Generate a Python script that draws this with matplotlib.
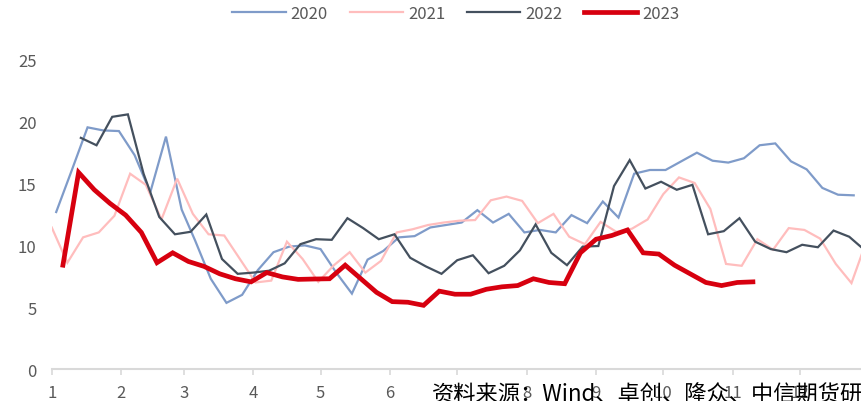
import pandas as pd
import matplotlib
matplotlib.use("Agg")
from matplotlib import pyplot as plt

plt.rcParams['font.family'] = ['Noto Sans CJK SC', 'DejaVu Sans']

# weekly series, each starting on its first Friday of data
v2020 = [12.7, 16.1, 19.55, 19.3, 19.25, 17.3, 14.3, 18.8, 12.9, 10.4,
         7.3, 5.35, 6.0, 8.0, 9.45, 9.9, 10.0, 9.7, 7.8, 6.1,
         8.85, 9.55, 10.65, 10.75, 11.45, 11.65, 11.85, 12.85, 11.85, 12.55,
         11.05, 11.25, 11.05, 12.45, 11.8, 13.55, 12.25, 15.8, 16.1, 16.1,
         16.8, 17.5, 16.85, 16.7, 17.05, 18.1, 18.25, 16.8, 16.15, 14.65,
         14.1, 14.05]
v2021 = [11.45, 8.6, 10.65, 11.05, 12.4, 15.8, 14.9, 12.1, 15.4, 12.55,
         10.9, 10.8, 8.9, 7.0, 7.15, 10.3, 8.9, 7.05, 8.4, 9.45,
         7.8, 8.75, 11.05, 11.3, 11.65, 11.85, 12.0, 12.05, 13.65, 13.95,
         13.6, 11.8, 12.55, 10.7, 10.1, 11.9, 11.1, 11.35, 12.1, 14.15,
         15.5, 15.05, 12.95, 8.5, 8.35, 10.5, 9.65, 11.4, 11.25, 10.55,
         8.5, 6.95, 10.5]
v2022 = [18.7, 18.1, 20.4, 20.6, 15.8, 12.3, 10.9, 11.1, 12.5, 8.9,
         7.7, 7.8, 7.95, 8.55, 10.1, 10.5, 10.45, 12.2, 11.4, 10.5,
         10.9, 9.0, 8.3, 7.7, 8.8, 9.2, 7.75, 8.35, 9.6, 11.7,
         9.4, 8.4, 9.9, 9.95, 14.8, 16.9, 14.6, 15.15, 14.5, 14.9,
         10.9, 11.15, 12.2, 10.3, 9.7, 9.45, 10.05, 9.85, 11.2, 10.7,
         9.6]
v2023 = [8.4, 15.9, 14.5, 13.4, 12.45, 11.05, 8.6, 9.4, 8.7, 8.3,
         7.7, 7.3, 7.05, 7.8, 7.45, 7.25, 7.28, 7.3, 8.4, 7.3,
         6.2, 5.45, 5.4, 5.15, 6.3, 6.05, 6.05, 6.45, 6.65, 6.75,
         7.3, 7.0, 6.9, 9.4, 10.5, 10.8, 11.25, 9.4, 9.3, 8.4,
         7.7, 7.0, 6.75, 7.0, 7.05]

starts = {"2020": "2020-01-03", "2021": "2021-01-01", "2022": "2022-01-14", "2023": "2023-01-06"}
series = {"2020": v2020, "2021": v2021, "2022": v2022, "2023": v2023}
colors = {"2020": "#7F9BC9", "2021": "#FFBDBD", "2022": "#44505E", "2023": "#D7000F"}
widths = {"2020": 1.6, "2021": 1.6, "2022": 1.6, "2023": 3.4}
months = list(range(1, 13))


def to_common_year(dates):
    # plot every year on the same month/day axis
    return [pd.Timestamp(2023, d.month, d.day) for d in dates]


fig = plt.figure(figsize=(8.62, 4.02), dpi=100)
ax = fig.add_axes([0.060, 0.0796, 0.940, 0.7687])

for name, vals in series.items():
    dates = pd.date_range(starts[name], periods=len(vals), freq="7D")
    ax.plot(to_common_year(dates), vals, color=colors[name], lw=widths[name],
            label=name, solid_joinstyle="miter")

ax.set_ylim(0, 25)
ax.set_yticks(range(0, 26, 5))
x0 = pd.Timestamp("2023-01-01")
ax.set_xlim(x0, x0 + pd.Timedelta(days=361.7))
ax.set_xticks([pd.Timestamp(2023, m, 1) for m in months])
ax.set_xticklabels([str(m) for m in months])

for s in ["top", "right", "left"]:
    ax.spines[s].set_visible(False)
ax.spines["bottom"].set_color("#D9D9D9")
ax.spines["bottom"].set_linewidth(1.5)
ax.tick_params(axis="x", length=4, width=1.2, color="#D9D9D9", pad=7,
               labelsize=12, labelcolor="#595959")
ax.tick_params(axis="y", length=0, pad=11, labelsize=12, labelcolor="#595959")

fig.legend(loc="center", bbox_to_anchor=(0.529, 0.965), ncol=4, frameon=False,
           fontsize=12, labelcolor="#595959", handlelength=3.2,
           handletextpad=0.3, columnspacing=1.3)

fig.text(432 / 862, 0.045, "资料来源：Wind、卓创、隆众、中信期货研究所",
         fontsize=16, color="black", va="top", ha="left")

fig.savefig("out.png", dpi=100)
